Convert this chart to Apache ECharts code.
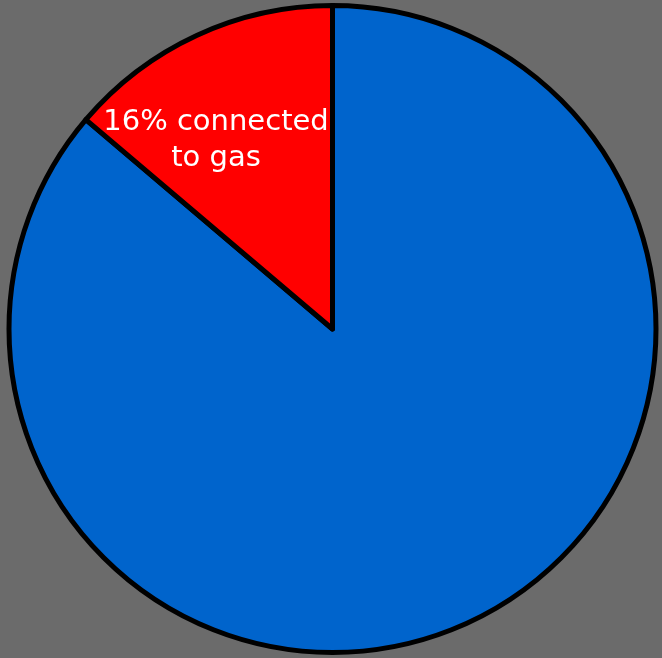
<!DOCTYPE html>
<html>
<head>
<meta charset="utf-8">
<script src="https://cdn.jsdelivr.net/npm/echarts@6/dist/echarts.min.js"></script>
<style>
  html, body { margin: 0; padding: 0; background: #6b6b6b; }
  #chart { width: 662px; height: 658px; }
</style>
</head>
<body>
<div id="chart"></div>
<script>
// slice shares as drawn (label text says 16%)
const categories = ['Not connected', 'Connected to gas']
const shares = [86.2, 13.8]
const colors = ['#0064cc', '#ff0000']
const labelText = '16% connected\nto gas'

const chart = echarts.init(document.getElementById('chart'))
chart.setOption({
    backgroundColor: '#6b6b6b',
    animation: false,
    series: [{
        type: 'pie',
        center: [332.5, 329],
        radius: [0, 323.5],
        startAngle: 90,
        clockwise: true,
        label: { show: false },
        labelLine: { show: false },
        itemStyle: {
            borderColor: '#000',
            borderWidth: 5,
            borderJoin: 'round'
        },
        data: categories.map((name, i) => ({
            name: name,
            value: shares[i],
            itemStyle: { color: colors[i] }
        }))
    }],
    graphic: [{
        type: 'text',
        z: 100,
        x: 216,
        y: 104,
        style: {
            text: labelText,
            fill: '#fff',
            fontFamily: 'DejaVu Sans',
            fontSize: 29,
            align: 'center',
            verticalAlign: 'top',
            lineHeight: 36
        }
    }]
})
</script>
</body>
</html>
